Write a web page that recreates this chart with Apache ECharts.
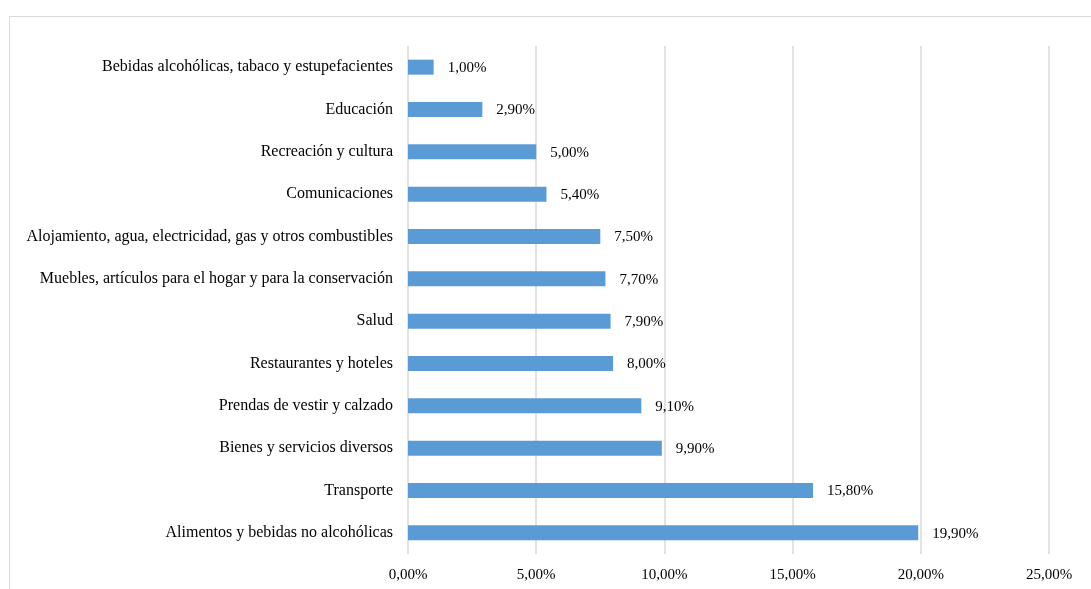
<!DOCTYPE html>
<html>
<head>
<meta charset="utf-8">
<script src="https://cdn.jsdelivr.net/npm/echarts@6/dist/echarts.min.js"></script>
<style>
  html, body { margin: 0; padding: 0; background: #ffffff; }
  #chart { width: 1091px; height: 589px; }
</style>
</head>
<body>
<div id="chart"></div>
<script>
// Household spending shares by category (bottom to top)
const categories = [
  'Alimentos y bebidas no alcohólicas',
  'Transporte',
  'Bienes y servicios diversos',
  'Prendas de vestir y calzado',
  'Restaurantes y hoteles',
  'Salud',
  'Muebles, artículos para el hogar y para la conservación',
  'Alojamiento, agua, electricidad, gas y otros combustibles',
  'Comunicaciones',
  'Recreación y cultura',
  'Educación',
  'Bebidas alcohólicas, tabaco y estupefacientes'
];
const shares = [19.9, 15.8, 9.9, 9.1, 8.0, 7.9, 7.7, 7.5, 5.4, 5.0, 2.9, 1.0];
const xTicks = { min: 0, max: 25, interval: 5 };

const fmtPct = v => v.toFixed(2).replace('.', ',') + '%';
const font = '"Liberation Serif", "Times New Roman", serif';

const chart = echarts.init(document.getElementById('chart'), null, { renderer: 'canvas' });
chart.setOption({
  animation: false,
  backgroundColor: '#ffffff',
  graphic: [{
    type: 'rect',
    shape: { x: 9.5, y: 16.5, width: 1100, height: 600 },
    style: { fill: 'none', stroke: '#d9d9d9', lineWidth: 1 },
    silent: true
  }],
  grid: { left: 408, right: 42, top: 46, bottom: 35, containLabel: false },
  xAxis: {
    type: 'value',
    min: xTicks.min, max: xTicks.max, interval: xTicks.interval,
    axisLine: { show: false },
    axisTick: { show: false },
    splitLine: { show: true, lineStyle: { color: '#d9d9d9', width: 1.5 } },
    axisLabel: {
      formatter: v => fmtPct(v),
      fontFamily: font, fontSize: 15, color: '#000000', margin: 14
    }
  },
  yAxis: {
    type: 'category',
    data: categories,
    axisLine: { show: false },
    axisTick: { show: false },
    axisLabel: {
      fontFamily: font, fontSize: 16, color: '#000000', margin: 15,
      padding: [4, 0, 0, 0]
    }
  },
  series: [{
    type: 'bar',
    data: shares,
    barWidth: 15,
    itemStyle: { color: '#5b9bd5' },
    label: {
      show: true,
      position: 'right',
      distance: 14,
      offset: [0, 1],
      formatter: p => fmtPct(p.value),
      fontFamily: font, fontSize: 15, color: '#000000'
    }
  }]
});
</script>
</body>
</html>
